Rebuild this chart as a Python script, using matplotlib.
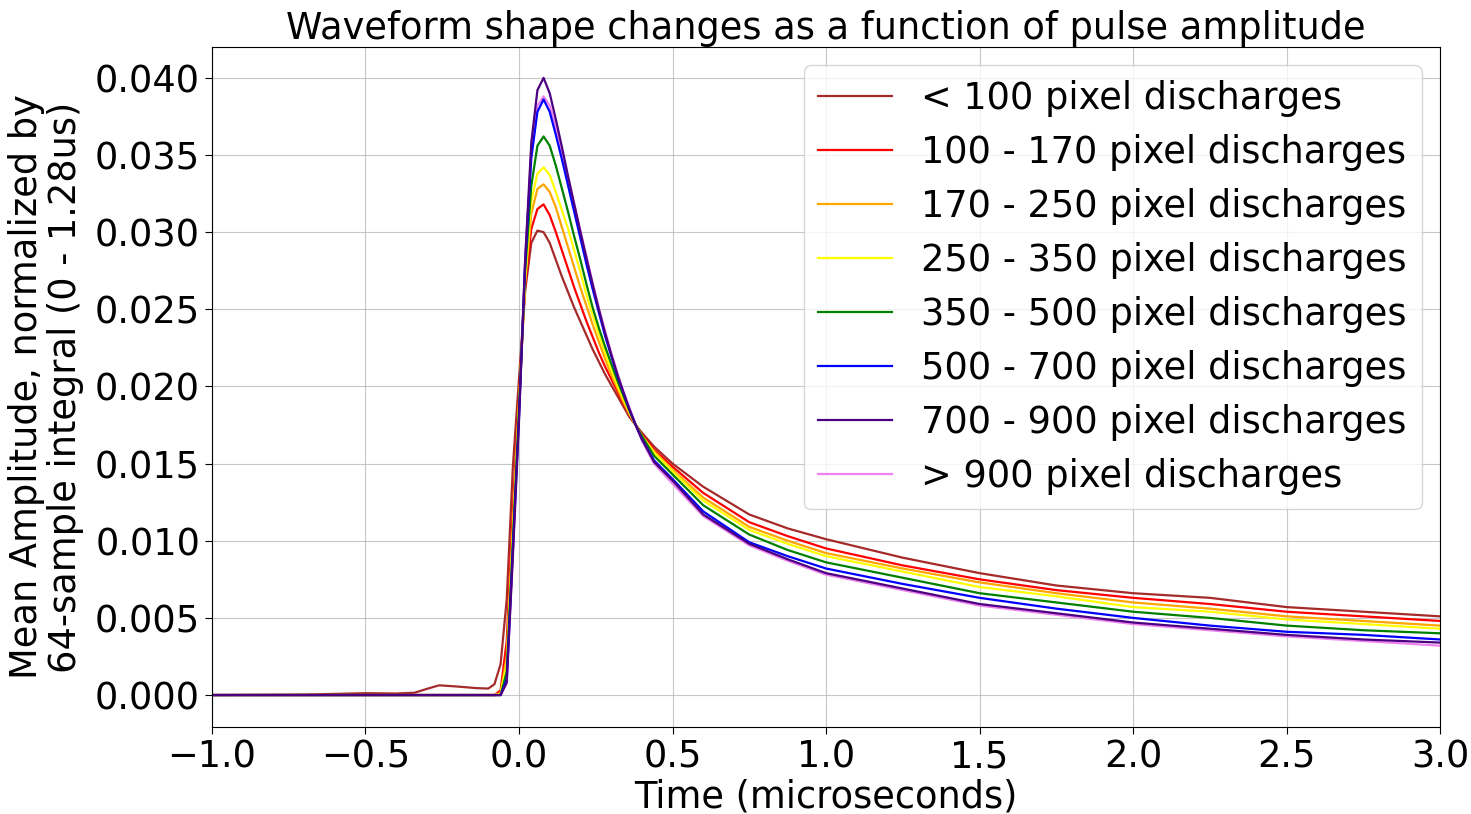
import matplotlib
matplotlib.use("Agg")
import matplotlib.pyplot as plt

# shared sample times (microseconds)
time_us = [-1.0, -0.7, -0.5, -0.4, -0.34, -0.3, -0.26, -0.2, -0.14, -0.1, -0.08,
           -0.06, -0.04, -0.02, 0.00, 0.02, 0.04, 0.06, 0.08, 0.10, 0.12, 0.14,
           0.16, 0.18, 0.20, 0.22, 0.24, 0.26, 0.28, 0.30, 0.32, 0.34, 0.36, 0.38,
           0.40, 0.44,
           0.5, 0.6, 0.75, 0.875, 1.0, 1.25, 1.5, 1.75, 2.0, 2.25, 2.5, 2.75, 3.0]

labels = ["< 100 pixel discharges", "100 - 170 pixel discharges",
          "170 - 250 pixel discharges", "250 - 350 pixel discharges",
          "350 - 500 pixel discharges", "500 - 700 pixel discharges",
          "700 - 900 pixel discharges", "> 900 pixel discharges"]
colors = ["brown", "red", "orange", "yellow", "green", "blue", "indigo", "violet"]

pre_zero = [0.0] * 11

amp_lt100 = [0.0, 0.00003, 0.00012, 0.0001, 0.00015, 0.0004, 0.00063, 0.00055, 0.00045, 0.00042, 0.0007,
             0.0020, 0.0062, 0.0148, 0.0205, 0.0262, 0.0293, 0.0301, 0.0300, 0.0293, 0.0282, 0.0271,
             0.0261, 0.0251, 0.0242, 0.0233, 0.0224, 0.0216, 0.0208, 0.0201, 0.0194, 0.0187, 0.0180, 0.0175,
             0.0170, 0.0161,
             0.0150, 0.0135, 0.0117, 0.0108, 0.0101, 0.0089, 0.0079, 0.0071, 0.0066, 0.0063, 0.0057, 0.0054, 0.0051]
amp_100_170 = pre_zero + [
             0.0003, 0.0035, 0.0120, 0.0195, 0.0265, 0.0302, 0.0315, 0.0318, 0.0311, 0.0300, 0.0288,
             0.0276, 0.0264, 0.0253, 0.0242, 0.0232, 0.0222, 0.0213, 0.0205, 0.0197, 0.0189, 0.0182, 0.0175,
             0.0169, 0.0159,
             0.0148, 0.0131, 0.0112, 0.0103, 0.0095, 0.0084, 0.0075, 0.0068, 0.0063, 0.0059, 0.0054, 0.0051, 0.0048]
amp_170_250 = pre_zero + [
             0.0001, 0.0025, 0.0110, 0.0190, 0.0268, 0.0312, 0.0328, 0.0331, 0.0326, 0.0316, 0.0303,
             0.0290, 0.0277, 0.0264, 0.0252, 0.0240, 0.0229, 0.0218, 0.0208, 0.0199, 0.0190, 0.0182, 0.0175,
             0.0168, 0.0158,
             0.0146, 0.0128, 0.0109, 0.0100, 0.0092, 0.0082, 0.0073, 0.0066, 0.0060, 0.0056, 0.0051, 0.0048, 0.0045]
amp_250_350 = pre_zero + [
             0.0001, 0.0020, 0.0105, 0.0188, 0.0270, 0.0320, 0.0338, 0.0342, 0.0337, 0.0326, 0.0314,
             0.0302, 0.0288, 0.0274, 0.0259, 0.0246, 0.0234, 0.0222, 0.0211, 0.0201, 0.0192, 0.0183, 0.0175,
             0.0168, 0.0157,
             0.0145, 0.0126, 0.0107, 0.0098, 0.0090, 0.0080, 0.0070, 0.0064, 0.0057, 0.0054, 0.0049, 0.0046, 0.0043]
amp_350_500 = pre_zero + [
             0.0, 0.0015, 0.0100, 0.0185, 0.0275, 0.0330, 0.0356, 0.0362, 0.0356, 0.0343, 0.0328,
             0.0313, 0.0297, 0.0282, 0.0266, 0.0251, 0.0238, 0.0226, 0.0215, 0.0204, 0.0194, 0.0184, 0.0175,
             0.0168, 0.0155,
             0.0143, 0.0123, 0.0104, 0.0094, 0.0086, 0.0076, 0.0066, 0.0060, 0.0054, 0.0050, 0.0045, 0.0042, 0.0040]
amp_500_700 = pre_zero + [
             0.0, 0.0010, 0.0095, 0.0180, 0.0280, 0.0348, 0.0378, 0.0386, 0.0378, 0.0363, 0.0347,
             0.0330, 0.0313, 0.0296, 0.0279, 0.0263, 0.0248, 0.0233, 0.0220, 0.0207, 0.0196, 0.0185, 0.0175,
             0.0166, 0.0152,
             0.0140, 0.0119, 0.0099, 0.0090, 0.0082, 0.0072, 0.0063, 0.0056, 0.0050, 0.0045, 0.0041, 0.0039, 0.0036]
amp_700_900 = pre_zero + [
             0.0, 0.0008, 0.0090, 0.0178, 0.0282, 0.0358, 0.0392, 0.0400, 0.0390, 0.0373, 0.0355,
             0.0336, 0.0318, 0.0300, 0.0283, 0.0266, 0.0250, 0.0235, 0.0221, 0.0208, 0.0196, 0.0185, 0.0175,
             0.0166, 0.0151,
             0.0139, 0.0117, 0.0098, 0.0088, 0.0079, 0.0069, 0.0059, 0.0053, 0.0047, 0.0043, 0.0039, 0.0036, 0.0034]
amp_gt900 = pre_zero + [
             0.0, 0.0008, 0.0092, 0.0182, 0.0283, 0.0352, 0.0382, 0.0388, 0.0382, 0.0368, 0.0352,
             0.0335, 0.0318, 0.0301, 0.0284, 0.0267, 0.0251, 0.0236, 0.0222, 0.0209, 0.0197, 0.0186, 0.0175,
             0.0165, 0.0150,
             0.0137, 0.0116, 0.0097, 0.0087, 0.0078, 0.0068, 0.0058, 0.0052, 0.0046, 0.0042, 0.0038, 0.0035, 0.0032]

series = [amp_lt100, amp_100_170, amp_170_250, amp_250_350,
          amp_350_500, amp_500_700, amp_700_900, amp_gt900]

FS = 26.5

fig = plt.figure(figsize=(14.71, 8.14), dpi=100)
ax = fig.add_axes([0.1441, 0.1069, 0.8349, 0.8354])

for i, (vals, lab, col) in enumerate(zip(series, labels, colors)):
    z = 2 if i < 7 else 1.5
    ax.plot(time_us, vals, color=col, lw=1.6, label=lab, zorder=z)

ax.set_xlim(-1.0, 3.0)
ax.set_ylim(-0.00207, 0.0420)
ax.set_xticks([-1.0, -0.5, 0.0, 0.5, 1.0, 1.5, 2.0, 2.5, 3.0])
ax.set_yticks([0.0, 0.005, 0.010, 0.015, 0.020, 0.025, 0.030, 0.035, 0.040])
ax.set_yticklabels(["0.000", "0.005", "0.010", "0.015", "0.020", "0.025", "0.030", "0.035", "0.040"])
ax.grid(True, color="#b0b0b0", lw=0.8, alpha=0.7)
ax.set_axisbelow(True)
ax.tick_params(labelsize=FS, length=5)

ax.set_xlabel("Time (microseconds)", fontsize=FS, labelpad=2)
ax.set_ylabel("Mean Amplitude, normalized by\n64-sample integral (0 - 1.28us)",
              fontsize=FS, linespacing=1.05, labelpad=8)
ax.set_title("Waveform shape changes as a function of pulse amplitude", fontsize=FS, pad=4)

leg = ax.legend(loc="upper right", fontsize=FS, labelspacing=0.46, handlelength=2.0,
                handletextpad=0.8, borderpad=0.4)

fig.savefig("out.png", dpi=100)
